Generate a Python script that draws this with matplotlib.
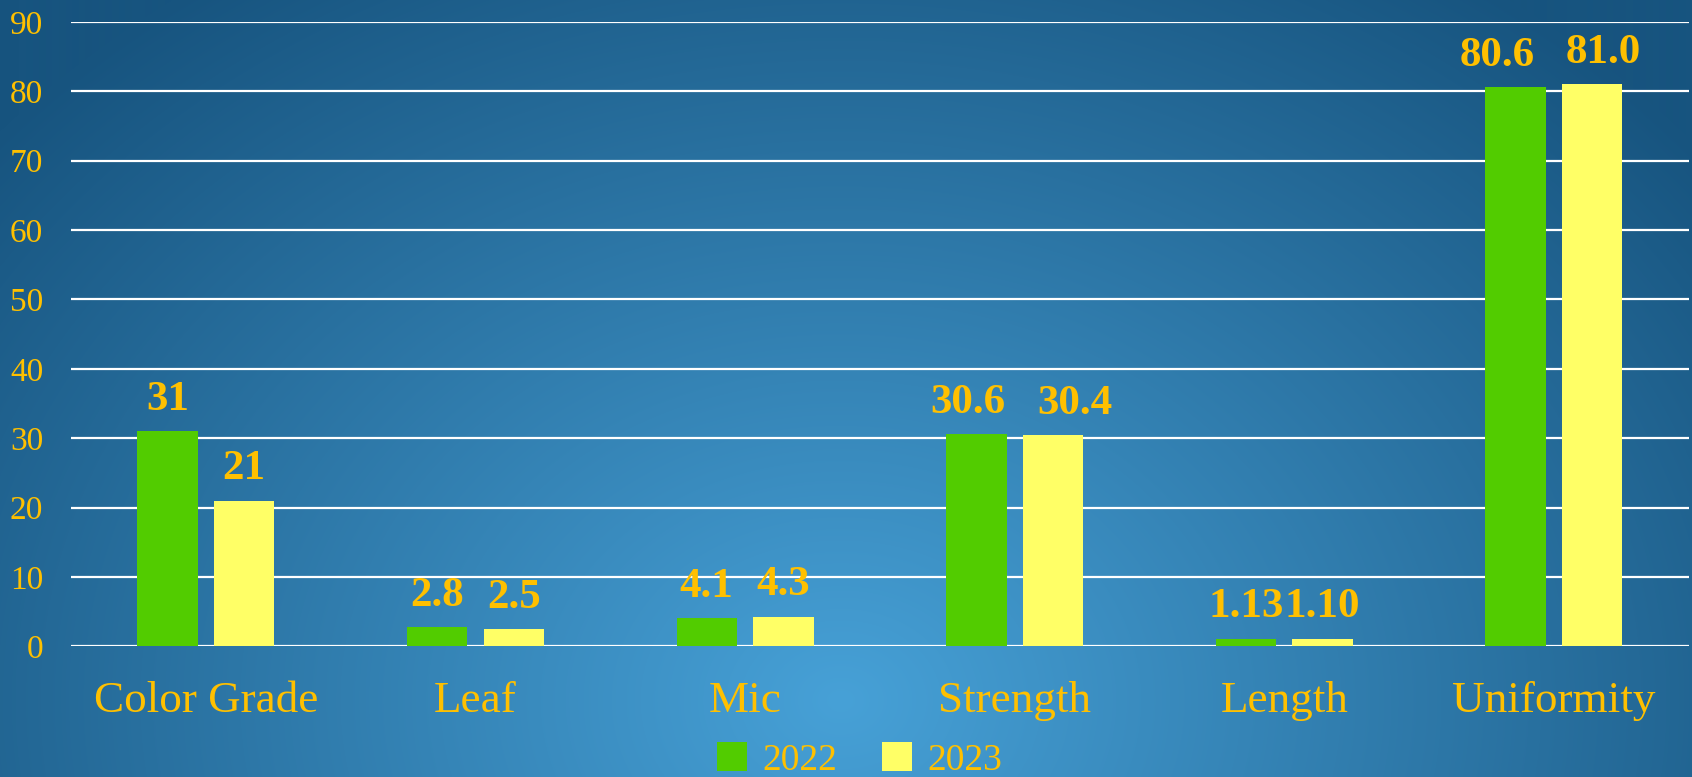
import numpy as np
from matplotlib import pyplot as plt

categories = ['Color Grade', 'Leaf', 'Mic', 'Strength', 'Length', 'Uniformity']
y2022 = [31, 2.8, 4.1, 30.6, 1.13, 80.6]
y2023 = [21, 2.5, 4.3, 30.4, 1.10, 81.0]
lab2022 = ['31', '2.8', '4.1', '30.6', '1.13', '80.6']
lab2023 = ['21', '2.5', '4.3', '30.4', '1.10', '81.0']

gold = '#FFC000'
serif = ['Liberation Serif', 'DejaVu Serif']

# labels that sit too close get nudged apart (pixels), like the original
nudge2022 = [0, 0, 0, -8, 0, -18]
nudge2023 = [0, 0, 0, 22, 0, 11]

fig = plt.figure(figsize=(16.92, 7.77), dpi=100)

# radial blue background
bg = fig.add_axes([0, 0, 1, 1], zorder=-1)
W, H = 1692, 777
xx, yy = np.meshgrid(np.arange(W), np.arange(H))
d = np.sqrt(((xx - 840) / 1100.0) ** 2 + ((yy - 700) / 880.0) ** 2)
d = np.clip(d, 0, 1)
c_in = np.array([0x47, 0xA1, 0xD7]) / 255.0
c_out = np.array([0x17, 0x54, 0x7F]) / 255.0
img = c_in[None, None, :] * (1 - d[..., None]) + c_out[None, None, :] * d[..., None]
bg.imshow(img, aspect='auto', extent=[0, 1, 0, 1])
bg.axis('off')

ax = fig.add_axes([0.042, 0.168, 0.956, 0.804])
ax.patch.set_alpha(0)

x = np.arange(len(categories))
w = 0.224
off = 0.142
b1 = ax.bar(x - off, y2022, w, color='#52CC00', label='2022', zorder=3)
b2 = ax.bar(x + off, y2023, w, color='#FFFF66', label='2023', zorder=3)

for bars, labs, nud in ((b1, lab2022, nudge2022), (b2, lab2023, nudge2023)):
    for r, t, n in zip(bars, labs, nud):
        ax.annotate(t, (r.get_x() + r.get_width() / 2, r.get_height()),
                    xytext=(n * 0.72, 9), textcoords='offset points',
                    ha='center', va='bottom', color=gold,
                    fontsize=31, fontweight='bold', family=serif)

ax.set_xlim(-0.5, 5.5)
ax.set_ylim(0, 90)
ax.set_yticks(range(0, 91, 10))
ax.yaxis.grid(True, color='white', linewidth=1.6, zorder=0)
ax.set_axisbelow(True)
for s in ax.spines.values():
    s.set_visible(False)

ax.set_xticks(x)
ax.set_xticklabels(categories)
ax.tick_params(axis='x', length=0, pad=25, labelsize=32.5, labelcolor=gold)
ax.tick_params(axis='y', length=0, pad=20, labelsize=24, labelcolor=gold)
for t in ax.get_xticklabels() + ax.get_yticklabels():
    t.set_family(serif)

fig.legend(loc='center', bbox_to_anchor=(0.508, 0.022), ncol=2, frameon=False,
           prop={'family': serif, 'size': 27}, labelcolor=gold,
           handlelength=0.8, handleheight=0.8, handletextpad=0.4,
           columnspacing=1.2)

plt.savefig('out.png', dpi=100)
